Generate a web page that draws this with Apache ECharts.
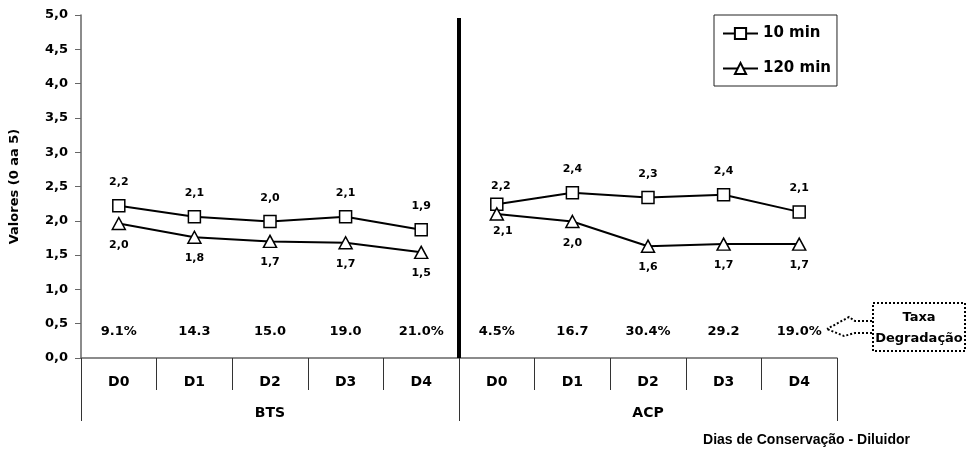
<!DOCTYPE html>
<html>
<head>
<meta charset="utf-8">
<script src="https://cdn.jsdelivr.net/npm/echarts@6/dist/echarts.min.js"></script>
<style>
  html, body { margin: 0; padding: 0; background: #fff; }
  #chart { width: 973px; height: 458px; }
</style>
</head>
<body>
<div id="chart"></div>
<script>
// Storage days per diluent group
const days = ['D0', 'D1', 'D2', 'D3', 'D4'];
const groups = ['BTS', 'ACP'];

// Scores (0 to 5) after 10 and 120 minutes of incubation
const bts10  = [2.22, 2.06, 1.99, 2.06, 1.87];
const bts120 = [1.96, 1.76, 1.70, 1.68, 1.54];
const acp10  = [2.24, 2.41, 2.34, 2.38, 2.13];
const acp120 = [2.10, 1.99, 1.63, 1.66, 1.66];

// Degradation rate printed under each day
const degradation = ['9.1%', '14.3', '15.0', '19.0', '21.0%', '4.5%', '16.7', '30.4%', '29.2', '19.0%'];
const degradationLevel = 0.385;

const FONT = '"DejaVu Sans", Verdana, sans-serif';
const FONT_NAME = '"Liberation Sans", Arial, sans-serif';
const categories = groups.flatMap(g => days.map(d => g + ' ' + d));
const blanks = days.map(() => '-');
const fmt = v => Number(v).toFixed(1).replace('.', ',');

// first point of a group may carry its own label placement
function groupData(values, firstLabel, leading) {
  const items = values.map((v, i) => (i === 0 && firstLabel) ? { value: v, label: firstLabel } : v);
  return leading ? blanks.concat(items) : items.concat(blanks);
}

const labelBase = {
  show: true,
  color: '#000',
  fontFamily: FONT,
  fontWeight: 'bold',
  fontSize: 11,
  formatter: p => fmt(p.value)
};

const squareStyle = {
  type: 'line',
  name: '10 min',
  symbol: 'rect',
  symbolSize: 12,
  showAllSymbol: true,
  itemStyle: { color: '#fff', borderColor: '#000', borderWidth: 1.5 },
  lineStyle: { color: '#000', width: 2 },
  label: Object.assign({}, labelBase, { position: 'top', distance: 11 }),
  z: 3
};
const triangleStyle = {
  type: 'line',
  name: '120 min',
  symbol: 'triangle',
  symbolSize: [13, 12],
  showAllSymbol: true,
  itemStyle: { color: '#fff', borderColor: '#000', borderWidth: 1.5 },
  lineStyle: { color: '#000', width: 2 },
  label: Object.assign({}, labelBase, { position: 'bottom', distance: 9 }),
  z: 3
};

const chart = echarts.init(document.getElementById('chart'), null, { renderer: 'canvas' });

const axisColor = '#666';

chart.setOption({
  animation: false,
  backgroundColor: '#fff',
  textStyle: { fontFamily: FONT },
  grid: { left: 80, right: 136, top: 15, bottom: 100, containLabel: false },
  legend: {
    data: ['10 min', '120 min'],
    orient: 'vertical',
    left: 714,
    top: 15,
    padding: [11, 6, 10, 8],
    itemGap: 20,
    itemWidth: 35,
    itemHeight: 14,
    borderColor: '#222',
    borderWidth: 1,
    textStyle: { color: '#000', fontFamily: FONT, fontWeight: 'bold', fontSize: 15 }
  },
  xAxis: [
    {
      type: 'category',
      data: categories,
      boundaryGap: true,
      axisLine: { show: true, lineStyle: { color: axisColor, width: 1.5 } },
      axisTick: { show: true, interval: 0, length: 32, lineStyle: { color: '#333', width: 1 } },
      axisLabel: {
        interval: 0, margin: 17, color: '#000', fontFamily: FONT, fontWeight: 'bold', fontSize: 14,
        formatter: v => v.split(' ')[1]
      },
      splitLine: { show: false }
    },
    {
      type: 'category',
      data: groups,
      position: 'bottom',
      offset: 32,
      boundaryGap: true,
      axisLine: { show: false },
      axisTick: { show: true, interval: 0, length: 31, lineStyle: { color: '#333', width: 1 } },
      axisLabel: { interval: 0, margin: 16, color: '#000', fontFamily: FONT, fontWeight: 'bold', fontSize: 14 },
      splitLine: { show: false }
    }
  ],
  yAxis: {
    type: 'value',
    min: 0,
    max: 5,
    interval: 0.5,
    name: 'Valores (0 aa 5)',
    nameLocation: 'middle',
    nameGap: 60,
    nameTextStyle: { color: '#000', fontFamily: FONT, fontWeight: 'bold', fontSize: 13 },
    axisLine: { show: true, lineStyle: { color: axisColor, width: 1.5 } },
    axisTick: { show: true, length: 6, lineStyle: { color: axisColor } },
    axisLabel: { margin: 13, color: '#000', fontFamily: FONT, fontWeight: 'bold', fontSize: 13, formatter: fmt },
    splitLine: { show: false }
  },
  series: [
    Object.assign({}, squareStyle, { data: groupData(bts10, null, false) }),
    Object.assign({}, triangleStyle, { data: groupData(bts120, null, false) }),
    Object.assign({}, squareStyle, { data: groupData(acp10, { distance: 6, offset: [4, 0] }, true) }),
    Object.assign({}, triangleStyle, { data: groupData(acp120, { distance: 5, offset: [6, 0] }, true) }),
    {
      type: 'scatter',
      name: 'Taxa Degradação',
      symbolSize: 0,
      silent: true,
      itemStyle: { opacity: 1 },
      data: degradation.map(() => degradationLevel),
      label: {
        show: true,
        position: 'inside',
        color: '#000',
        fontFamily: FONT,
        fontWeight: 'bold',
        fontSize: 13,
        formatter: p => degradation[p.dataIndex]
      }
    }
  ]
});

// Thick divider between the two diluent groups, and the annotation callout
const xa = chart.convertToPixel({ xAxisIndex: 0 }, categories[4]);
const xb = chart.convertToPixel({ xAxisIndex: 0 }, categories[5]);
const xMid = (xa + xb) / 2;
const yTop = chart.convertToPixel({ yAxisIndex: 0 }, 5) + 3;
const yZero = chart.convertToPixel({ yAxisIndex: 0 }, 0);

const dotted = { stroke: '#000', lineWidth: 2, lineDash: [2, 2], fill: null };

chart.setOption({
  graphic: [
    {
      type: 'line',
      shape: { x1: xMid, y1: yTop, x2: xMid, y2: yZero },
      style: { stroke: '#000', lineWidth: 4 },
      z: 10
    },
    {
      type: 'rect',
      shape: { x: 873, y: 303, width: 92, height: 48 },
      style: dotted,
      z: 10
    },
    {
      type: 'polyline',
      shape: { points: [[872, 321], [855, 321], [849, 317], [827, 329]] },
      style: dotted,
      z: 10
    },
    {
      type: 'polyline',
      shape: { points: [[872, 333], [855, 333], [844, 336], [827, 329]] },
      style: dotted,
      z: 10
    },
    {
      type: 'text',
      x: 919, y: 318,
      style: { text: 'Taxa', x: 0, y: 0, align: 'center', verticalAlign: 'middle', fill: '#000', font: 'bold 13px ' + FONT },
      z: 10
    },
    {
      type: 'text',
      x: 919, y: 339,
      style: { text: 'Degradação', x: 0, y: 0, align: 'center', verticalAlign: 'middle', fill: '#000', font: 'bold 13px ' + FONT },
      z: 10
    },
    {
      type: 'text',
      x: 910, y: 440,
      style: { text: 'Dias de Conservação - Diluidor', align: 'right', verticalAlign: 'middle', fill: '#000', font: 'bold 14px ' + FONT_NAME },
      z: 10
    }
  ]
});
</script>
</body>
</html>
